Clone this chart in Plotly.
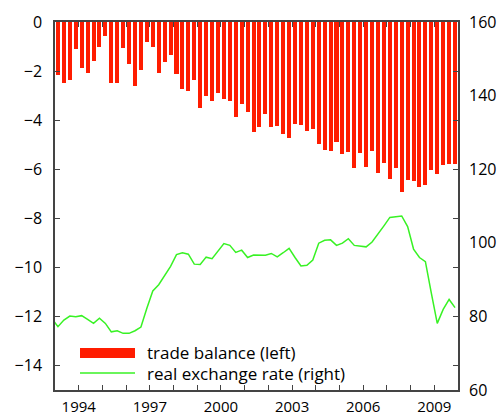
import plotly.graph_objects as go

# Quarterly observations, 1992Q4 .. 2009Q4
start_year = 1992
start_quarter = 4
trade_balance = [
    -5.6,
    -2.14, -2.50, -2.37, -1.10, -1.86, -2.07, -1.58, -1.02,
    -0.57, -2.48, -2.49, -1.07, -1.71, -2.61, -1.97, -0.82,
    -1.01, -2.07, -1.63, -1.33, -2.12, -2.75, -2.82, -2.35,
    -3.51, -3.02, -3.20, -2.90, -3.13, -3.24, -3.89, -3.35,
    -3.67, -4.50, -4.29, -3.77, -4.27, -4.24, -4.57, -4.72,
    -4.14, -4.18, -4.46, -4.35, -4.98, -5.21, -5.25, -4.88,
    -5.36, -5.31, -5.95, -5.35, -5.92, -5.27, -6.16, -5.76,
    -6.41, -5.97, -6.93, -6.45, -6.48, -6.71, -6.65, -6.04,
    -6.20, -5.81, -5.78, -5.77,
]
real_exchange_rate = [
    79.3,
    77.2, 79.0, 80.1, 79.9, 80.2, 79.2, 78.1, 79.5,
    78.1, 75.8, 76.1, 75.4, 75.4, 76.1, 77.1, 82.2,
    86.9, 88.6, 91.1, 93.6, 96.8, 97.3, 96.9, 94.2,
    94.1, 96.1, 95.7, 97.8, 99.8, 99.3, 97.4, 98.0,
    96.0, 96.7, 96.7, 96.6, 97.1, 96.2, 97.3, 98.5,
    96.0, 93.7, 93.9, 95.3, 99.9, 100.7, 100.8, 99.3,
    99.9, 101.1, 99.3, 99.2, 98.9, 100.2, 102.3, 104.6,
    106.9, 107.1, 107.3, 104.4, 98.3, 96.0, 94.9, 86.3,
    78.1, 81.9, 84.6, 82.4,
]
year_ticks = list(range(1993, 2011))
labelled_years = [1994, 1997, 2000, 2003, 2006, 2009]
left_ticks = [0, -2, -4, -6, -8, -10, -12, -14]
right_ticks = [60, 80, 100, 120, 140, 160]

# mid-quarter positions on a decimal-year axis
t = []
for i in range(len(trade_balance)):
    q = start_quarter - 1 + i
    t.append(start_year + q // 4 + (q % 4) * 0.25 + 0.125)

BAR = "rgb(255,28,0)"
LINE = "rgb(56,242,36)"
AXIS = "#444444"
FONT = "Open Sans"

fig = go.Figure()
fig.add_trace(go.Bar(
    x=t, y=trade_balance, width=0.17,
    marker=dict(color=BAR, line=dict(width=0)),
    name="trade balance (left)", yaxis="y", showlegend=False,
))
fig.add_trace(go.Scatter(
    x=t, y=real_exchange_rate, mode="lines",
    line=dict(color=LINE, width=1.5),
    name="real exchange rate (right)", yaxis="y2", showlegend=False,
))

fig.update_layout(
    width=498, height=417,
    margin=dict(l=55, r=40, t=22, b=27, autoexpand=False),
    paper_bgcolor="white", plot_bgcolor="white",
    font=dict(family=FONT, size=16, color="black"),
    xaxis=dict(
        range=[1993, 2010],
        tickvals=year_ticks,
        ticktext=[str(y) if y in labelled_years else "" for y in year_ticks],
        ticks="inside", ticklen=5, tickcolor=AXIS,
        showline=True, linecolor=AXIS, linewidth=1.5, mirror="ticks",
        showgrid=False, zeroline=False, ticklabelstandoff=2,
        tickfont=dict(size=15), automargin=False,
    ),
    yaxis=dict(
        range=[-15, 0],
        tickvals=left_ticks,
        ticktext=[("\u2212" + str(-v)) if v < 0 else str(v) for v in left_ticks],
        ticks="inside", ticklen=5, tickcolor=AXIS,
        showline=True, linecolor=AXIS, linewidth=1.5, mirror="ticks",
        showgrid=False, zeroline=False, ticklabelstandoff=8,
        automargin=False,
    ),
    yaxis2=dict(
        range=[60, 160], overlaying="y", side="right",
        tickvals=right_ticks, ticks="", showline=False,
        showgrid=False, zeroline=False, ticklabelstandoff=10,
        automargin=False,
    ),
    bargap=0,
)

# legend drawn as swatches with text beside them
def px_to_paper(px, py):
    return (px - 55) / 403, (390 - py) / 368

x0, y0 = px_to_paper(80, 348)
x1, y1 = px_to_paper(135, 358)
fig.add_shape(type="rect", xref="paper", yref="paper",
              x0=x0, x1=x1, y0=y1, y1=y0, fillcolor=BAR, line=dict(width=0))
lx0, ly = px_to_paper(80, 373)
lx1, _ = px_to_paper(135, 373)
fig.add_shape(type="line", xref="paper", yref="paper",
              x0=lx0, x1=lx1, y0=ly, y1=ly, line=dict(color=LINE, width=1.5))
tx, ty1 = px_to_paper(145, 352)
_, ty2 = px_to_paper(145, 373)
fig.add_annotation(xref="paper", yref="paper", x=tx, y=ty1, xanchor="left",
                   yanchor="middle", text="trade balance (left)", showarrow=False,
                   font=dict(size=17))
fig.add_annotation(xref="paper", yref="paper", x=tx, y=ty2, xanchor="left",
                   yanchor="middle", text="real exchange rate (right)", showarrow=False,
                   font=dict(size=17))

fig.write_html("out.html")
